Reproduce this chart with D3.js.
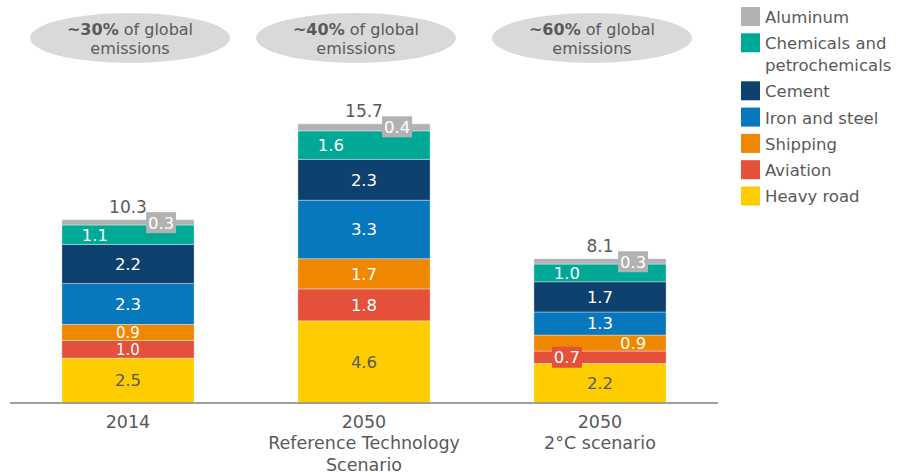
<!DOCTYPE html>
<html>
<head>
<meta charset="utf-8">
<script src="https://cdn.jsdelivr.net/npm/d3@7"></script>
<style>
  html, body { margin: 0; padding: 0; background: #fff; }
  svg { display: block; }
  text { font-family: "DejaVu Sans", sans-serif; }
</style>
</head>
<body>
<svg id="chart" width="901" height="473"></svg>
<script>
// ---- data ----
const categories = ["2014", "2050 Reference Technology Scenario", "2050 2°C scenario"];
const categoryLabels = [["2014"], ["2050", "Reference Technology", "Scenario"], ["2050", "2°C scenario"]];
const seriesNames = ["Heavy road", "Aviation", "Shipping", "Iron and steel", "Cement", "Chemicals and petrochemicals", "Aluminum"];
const heavyRoad = [2.5, 4.6, 2.2];
const aviation = [1.0, 1.8, 0.7];
const shipping = [0.9, 1.7, 0.9];
const ironSteel = [2.3, 3.3, 1.3];
const cement = [2.2, 2.3, 1.7];
const chemicals = [1.1, 1.6, 1.0];
const aluminum = [0.3, 0.4, 0.3];
const shareLabels = ["~30%", "~40%", "~60%"];
const shareSuffix = [" of global", "emissions"];
const legendOrder = ["Aluminum", "Chemicals and petrochemicals", "Cement", "Iron and steel", "Shipping", "Aviation", "Heavy road"];
const legendLines = {"Chemicals and petrochemicals": ["Chemicals and", "petrochemicals"]};

const values = [heavyRoad, aviation, shipping, ironSteel, cement, chemicals, aluminum];

// ---- styles ----
const colors = {
  "Heavy road": "#ffcc00",
  "Aviation": "#e4503a",
  "Shipping": "#f08700",
  "Iron and steel": "#0878be",
  "Cement": "#0e416e",
  "Chemicals and petrochemicals": "#00a896",
  "Aluminum": "#b2b2b2"
};
const labelColor = { "Heavy road": "#595959" };
const labelPlace = {
  "Aluminum": ["boxR", "boxR", "boxR"],
  "Chemicals and petrochemicals": ["L", "L", "L"],
  "Shipping": ["C", "C", "R"],
  "Aviation": ["C", "C", "boxL"]
};
const textGrey = "#595959";

// ---- build table ----
const table = categories.map((c, i) => {
  const row = { cat: c };
  seriesNames.forEach((s, k) => row[s] = values[k][i]);
  return row;
});
const stacked = d3.stack().keys(seriesNames)(table);

const svg = d3.select("#chart");

const x = d3.scaleBand().domain(categories).range([10, 718]).paddingInner(0.44).paddingOuter(0.22);
const y = d3.scaleLinear().domain([0, 16]).range([402.5, 402.5 - 16 * 17.75]);

// ellipses with share text
const ellipseOffset = [2, -8, -8];
categories.forEach((c, i) => {
  const cx = x(c) + x.bandwidth() / 2 + ellipseOffset[i];
  svg.append("ellipse").attr("cx", cx).attr("cy", 38).attr("rx", 100).attr("ry", 25).attr("fill", "#d9d9d9");
  const t = svg.append("text").attr("x", cx).attr("y", 35).attr("text-anchor", "middle")
    .attr("font-size", 16).attr("fill", textGrey);
  t.append("tspan").attr("font-weight", "bold").text(shareLabels[i]);
  t.append("tspan").text(shareSuffix[0]);
  svg.append("text").attr("x", cx).attr("y", 54).attr("text-anchor", "middle")
    .attr("font-size", 16).attr("fill", textGrey).text(shareSuffix[1]);
});

// bars
const layer = svg.append("g").selectAll("g").data(stacked).join("g")
  .attr("fill", d => colors[d.key]);
layer.selectAll("rect").data(d => d.map(p => ({ p, key: d.key }))).join("rect")
  .attr("x", d => x(d.p.data.cat))
  .attr("y", d => y(d.p[1]))
  .attr("width", x.bandwidth())
  .attr("height", d => y(d.p[0]) - y(d.p[1]))
  .attr("stroke", "#ffffff").attr("stroke-opacity", 0.45).attr("stroke-width", 0.8);

// segment labels
const lbl = svg.append("g");
stacked.forEach(s => {
  s.forEach((p, i) => {
    const cat = p.data.cat;
    const v = p[1] - p[0];
    const place = (labelPlace[s.key] || ["C", "C", "C"])[i];
    const x0 = x(cat), x1 = x(cat) + x.bandwidth();
    let cx = (x0 + x1) / 2;
    let cy = (y(p[0]) + y(p[1])) / 2;
    if (place === "L" || place === "boxL") cx = x0 + 33;
    if (place === "R" || place === "boxR") cx = x1 - 33;
    if (place === "boxR") cy = y(p[1]) + 3;
    if (place === "boxL" || place === "boxR") {
      lbl.append("rect").attr("x", cx - 15).attr("y", cy - 10.5).attr("width", 30).attr("height", 21)
        .attr("fill", colors[s.key]);
    }
    const small = v < 1.05 && place === "C";
    lbl.append("text").attr("x", cx).attr("y", cy).attr("dy", "0.36em")
      .attr("text-anchor", "middle").attr("font-size", small ? 15 : 16.5)
      .attr("fill", labelColor[s.key] || "#ffffff")
      .text(d3.format(".1f")(v));
  });
});

// totals
const topLayer = stacked[stacked.length - 1];
topLayer.forEach(p => {
  svg.append("text").attr("x", x(p.data.cat) + x.bandwidth() / 2).attr("y", y(p[1]) - 7)
    .attr("text-anchor", "middle").attr("font-size", 17).attr("fill", textGrey)
    .text(d3.format(".1f")(p[1]));
});

// axis baseline
const axis = svg.append("g").attr("transform", `translate(0,${y(0) + 0.5})`)
  .call(d3.axisBottom(x).tickSize(0).tickFormat(""));
axis.select(".domain").attr("stroke", "#7f7f7f").attr("stroke-width", 1.5)
  .attr("d", "M10,0H718");
categories.forEach((c, i) => {
  categoryLabels[i].forEach((line, j) => {
    svg.append("text").attr("x", x(c) + x.bandwidth() / 2).attr("y", 427.5 + j * 21.5)
      .attr("text-anchor", "middle").attr("font-size", 17.5).attr("fill", textGrey).text(line);
  });
});

// legend
const legend = svg.append("g");
let ly = 7;
legendOrder.forEach(name => {
  legend.append("rect").attr("x", 741).attr("y", ly).attr("width", 19).attr("height", 19).attr("fill", colors[name]);
  const lines = legendLines[name] || [name];
  lines.forEach((line, j) => {
    legend.append("text").attr("x", 765).attr("y", ly + 10 + j * 22).attr("dy", "0.36em")
      .attr("font-size", 16.5).attr("fill", textGrey).text(line);
  });
  ly += lines.length === 2 ? 48 : 26.3;
});
</script>
</body>
</html>
